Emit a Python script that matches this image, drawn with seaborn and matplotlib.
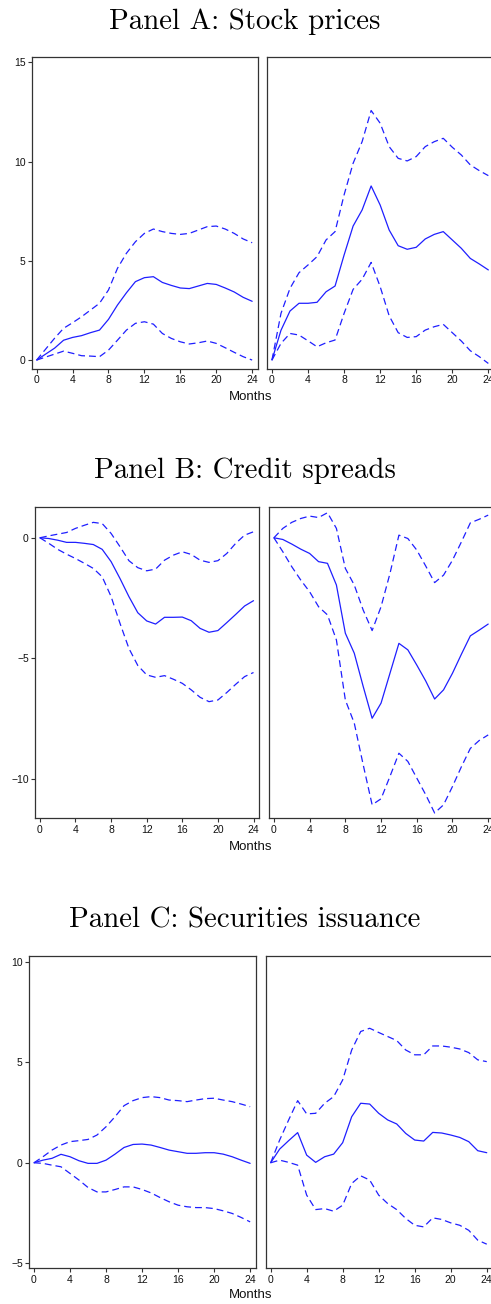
import numpy as np
import pandas as pd
import seaborn as sns
import matplotlib
matplotlib.use("Agg")
import matplotlib.pyplot as plt

months = list(range(25))

# Panel A: stock prices
a_left_mid = [0, 0.3, 0.6, 1.0, 1.14, 1.23, 1.38, 1.51, 2.05, 2.77, 3.39, 3.95, 4.15, 4.2,
              3.91, 3.76, 3.63, 3.6, 3.73, 3.86, 3.81, 3.63, 3.43, 3.16, 2.96]
a_left_hi = [0, 0.55, 1.1, 1.6, 1.88, 2.18, 2.52, 2.86, 3.53, 4.62, 5.38, 5.96, 6.38, 6.6,
             6.47, 6.38, 6.33, 6.38, 6.55, 6.72, 6.75, 6.6, 6.38, 6.1, 5.91]
a_left_lo = [0, 0.15, 0.3, 0.45, 0.34, 0.22, 0.2, 0.17, 0.5, 1.0, 1.51, 1.85, 1.93, 1.81,
             1.34, 1.09, 0.92, 0.81, 0.87, 0.96, 0.84, 0.62, 0.39, 0.17, 0.0]
a_right_mid = [0, 1.5, 2.47, 2.86, 2.86, 2.91, 3.44, 3.73, 5.29, 6.75, 7.56, 8.77, 7.81, 6.55,
               5.76, 5.58, 5.68, 6.1, 6.33, 6.47, 6.05, 5.63, 5.12, 4.84, 4.54]
a_right_hi = [0, 2.35, 3.61, 4.4, 4.79, 5.21, 6.05, 6.47, 8.32, 9.91, 11.0, 12.57, 11.93, 10.75,
              10.16, 10.03, 10.25, 10.75, 11.0, 11.17, 10.72, 10.33, 9.83, 9.54, 9.29]
a_right_lo = [0, 0.84, 1.34, 1.26, 0.97, 0.67, 0.87, 1.01, 2.35, 3.56, 4.07, 4.92, 3.7, 2.23,
              1.38, 1.14, 1.18, 1.51, 1.68, 1.8, 1.38, 0.96, 0.47, 0.17, -0.17]

# Panel B: credit spreads
b_left_mid = [0, -0.03, -0.1, -0.19, -0.19, -0.23, -0.28, -0.48, -0.99, -1.69, -2.44, -3.11, -3.45,
              -3.58, -3.3, -3.3, -3.29, -3.44, -3.76, -3.92, -3.85, -3.52, -3.18, -2.83, -2.61]
b_left_hi = [0, 0.08, 0.15, 0.22, 0.39, 0.52, 0.64, 0.59, 0.18, -0.37, -0.95, -1.24, -1.37,
             -1.3, -0.93, -0.72, -0.58, -0.69, -0.93, -1.02, -0.95, -0.65, -0.23, 0.11, 0.25]
b_left_lo = [0, -0.23, -0.48, -0.68, -0.86, -1.06, -1.27, -1.62, -2.44, -3.55, -4.59, -5.3, -5.69,
             -5.79, -5.72, -5.87, -6.04, -6.31, -6.62, -6.8, -6.73, -6.42, -6.08, -5.76, -5.59]
b_right_mid = [0, -0.07, -0.26, -0.47, -0.65, -0.99, -1.06, -1.96, -3.96, -4.79, -6.17, -7.49, -6.86,
               -5.62, -4.38, -4.65, -5.28, -5.94, -6.69, -6.31, -5.62, -4.83, -4.07, -3.83, -3.58]
b_right_hi = [0, 0.39, 0.64, 0.8, 0.9, 0.84, 1.04, 0.39, -1.27, -1.96, -3.0, -3.85, -2.86,
              -1.48, 0.11, -0.03, -0.51, -1.17, -1.86, -1.55, -0.93, -0.17, 0.62, 0.77, 0.94]
b_right_lo = [0, -0.58, -1.2, -1.75, -2.24, -2.86, -3.2, -4.24, -6.73, -7.69, -9.42, -11.08, -10.83,
              -9.9, -8.94, -9.28, -9.97, -10.66, -11.42, -11.08, -10.32, -9.5, -8.74, -8.41, -8.18]

# Panel C: securities issuance
c_left_mid = [0, 0.13, 0.22, 0.42, 0.3, 0.1, -0.03, -0.03, 0.13, 0.43, 0.76, 0.91, 0.93, 0.88,
              0.76, 0.63, 0.55, 0.47, 0.47, 0.5, 0.5, 0.43, 0.3, 0.13, -0.03]
c_left_hi = [0, 0.3, 0.63, 0.88, 1.05, 1.1, 1.16, 1.38, 1.79, 2.29, 2.84, 3.09, 3.24, 3.29,
             3.24, 3.12, 3.09, 3.04, 3.12, 3.19, 3.21, 3.12, 3.04, 2.92, 2.79]
c_left_lo = [0, -0.03, -0.12, -0.2, -0.53, -0.86, -1.23, -1.45, -1.45, -1.33, -1.2, -1.2, -1.33,
             -1.5, -1.73, -1.94, -2.11, -2.19, -2.23, -2.23, -2.28, -2.39, -2.52, -2.72, -2.94]
c_right_mid = [0, 0.68, 1.1, 1.5, 0.38, 0.02, 0.3, 0.43, 1.0, 2.29, 2.96, 2.92, 2.46, 2.13,
               1.93, 1.46, 1.13, 1.08, 1.51, 1.48, 1.38, 1.26, 1.05, 0.6, 0.5]
c_right_hi = [0, 1.13, 2.13, 3.09, 2.43, 2.46, 2.96, 3.29, 4.12, 5.61, 6.53, 6.69, 6.48, 6.28,
              6.08, 5.61, 5.37, 5.37, 5.81, 5.81, 5.75, 5.66, 5.48, 5.12, 5.03]
c_right_lo = [0, 0.13, 0.02, -0.12, -1.61, -2.33, -2.28, -2.41, -2.11, -1.03, -0.65, -0.86, -1.61,
              -2.03, -2.33, -2.77, -3.11, -3.19, -2.74, -2.82, -2.99, -3.11, -3.36, -3.85, -4.05]

panel_titles = ["Panel A: Stock prices", "Panel B: Credit spreads", "Panel C: Securities issuance"]
x_ticks = [0, 4, 8, 12, 16, 20, 24]
y_ticks = [[0, 5, 10, 15], [-10, -5, 0], [-5, 0, 5, 10]]
y_lims = [(-0.45, 15.25), (-11.64, 1.29), (-5.25, 10.3)]

panels = [
    [(a_left_mid, a_left_hi, a_left_lo), (a_right_mid, a_right_hi, a_right_lo)],
    [(b_left_mid, b_left_hi, b_left_lo), (b_right_mid, b_right_hi, b_right_lo)],
    [(c_left_mid, c_left_hi, c_left_lo), (c_right_mid, c_right_hi, c_right_lo)],
]

# pixel layout of the original (left, right, top, bottom); right panels run off the edge
W, H = 491, 1304
layout = [
    ([(31.7, 258.0), (267.0, 494.2)], (57.3, 369.0), 29, 397.5),
    ([(35.0, 259.3), (269.0, 494.0)], (506.7, 818.3), 478, 846.5),
    ([(29.0, 256.0), (265.7, 492.6)], (955.7, 1268.3), 928, 1295.0),
]

sns.set_style("ticks")
plt.rcParams['font.family'] = ['Liberation Sans', 'DejaVu Sans']

fig = plt.figure(figsize=(W / 100, H / 100), dpi=100)
line_color = "#1f1fff"
spine_color = "#333333"

for p, (series_pair, (cols, (top, bot), title_y, months_y)) in enumerate(zip(panels, layout)):
    for k, ((mid, hi, lo), (x0, x1)) in enumerate(zip(series_pair, cols)):
        ax = fig.add_axes([x0 / W, 1 - bot / H, (x1 - x0) / W, (bot - top) / H])
        df = pd.DataFrame({
            "Months": months * 3,
            "value": mid + hi + lo,
            "band": ["mid"] * 25 + ["hi"] * 25 + ["lo"] * 25,
        })
        sns.lineplot(data=df, x="Months", y="value", style="band",
                     dashes={"mid": "", "hi": (5.5, 3.2), "lo": (5.5, 3.2)},
                     color=line_color, linewidth=0.9, legend=False, ax=ax)
        ax.set_xlim(-0.55, 24.65)
        ax.set_ylim(*y_lims[p])
        ax.set_xticks(x_ticks)
        ax.set_yticks(y_ticks[p])
        ax.set_xlabel("")
        ax.set_ylabel("")
        ax.tick_params(labelsize=7.5, length=3, width=0.8, color=spine_color,
                       labelcolor="#111111", pad=1.5)
        if k == 1:
            ax.tick_params(axis="y", left=False, labelleft=False)
        for s in ax.spines.values():
            s.set_visible(True)
            s.set_color(spine_color)
            s.set_linewidth(0.9)
    fig.text(245 / W, 1 - title_y / H, panel_titles[p], family="cmr10",
             fontsize=20.8, color="black", ha="center", va="baseline")
    fig.text(250.5 / W, 1 - months_y / H, "Months", fontsize=9.5, color="#111111",
             ha="center", va="center")

fig.savefig("out.png", dpi=100)
